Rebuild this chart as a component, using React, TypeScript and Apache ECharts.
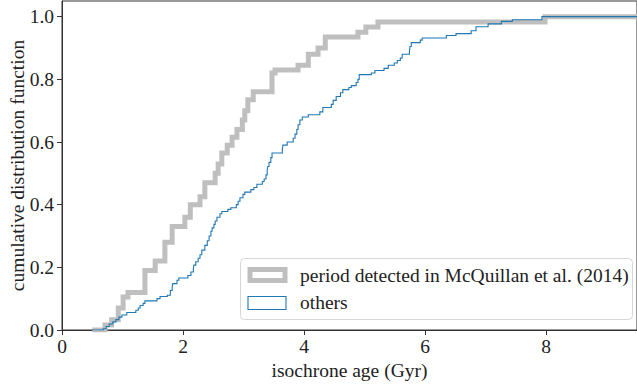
import React, { useEffect, useRef } from 'react';
import * as echarts from 'echarts';

const xTicks = [0, 2, 4, 6, 8];
const yTicks = [0, 0.2, 0.4, 0.6, 0.8, 1.0];

const seriesNames = ['period detected in McQuillan et al. (2014)', 'others'];

// step vertices: age where the CDF jumps, and the CDF value after the jump
const detectedAges = [0.50, 0.71, 0.82, 0.93, 1.01, 1.09, 1.37, 1.54, 1.70, 1.82, 2.03, 2.12, 2.28, 2.36, 2.53, 2.58, 2.64, 2.73, 2.81, 2.89, 2.98, 3.02, 3.07, 3.16, 3.47, 3.52, 3.90, 4.07, 4.23, 4.35, 4.89, 5.02, 5.22, 7.98, 9.5];
const detectedCdf = [0, 0.016, 0.033, 0.07, 0.105, 0.12, 0.19, 0.22, 0.28, 0.33, 0.36, 0.40, 0.425, 0.47, 0.50, 0.53, 0.565, 0.59, 0.615, 0.64, 0.67, 0.70, 0.735, 0.76, 0.82, 0.83, 0.845, 0.88, 0.90, 0.935, 0.95, 0.967, 0.983, 1.0, 1.0];

const othersAges = [0.50, 0.68, 0.73, 0.78, 0.84, 0.89, 0.94, 0.99, 1.07, 1.22,
  1.26, 1.29, 1.34, 1.37, 1.57, 1.62, 1.74, 1.79, 1.82, 1.83,
  1.90, 1.93, 2.08, 2.13, 2.17, 2.18, 2.21, 2.25, 2.28, 2.31,
  2.36, 2.40, 2.43, 2.46, 2.48, 2.51, 2.53, 2.56, 2.61, 2.64,
  2.74, 2.79, 2.88, 2.91, 2.94, 2.99, 3.02, 3.12, 3.17, 3.22,
  3.31, 3.34, 3.37, 3.39, 3.40, 3.42, 3.45, 3.47, 3.64, 3.65,
  3.72, 3.82, 3.85, 3.88, 3.90, 3.93, 3.97, 4.07, 4.26, 4.31,
  4.45, 4.48, 4.53, 4.60, 4.64, 4.74, 4.78, 4.86, 4.89, 4.91,
  5.11, 5.17, 5.32, 5.39, 5.49, 5.54, 5.59, 5.62, 5.74, 5.75,
  5.77, 5.92, 5.95, 6.35, 6.51, 6.76, 6.84, 7.04, 7.26, 7.44,
  7.93, 9.5];
const othersCdf = [0, 0.004, 0.011, 0.019, 0.026, 0.033, 0.041, 0.048, 0.056, 0.063,
  0.070, 0.078, 0.085, 0.093, 0.100, 0.107, 0.111, 0.126, 0.137, 0.148,
  0.159, 0.166, 0.174, 0.185, 0.196, 0.207, 0.218, 0.229, 0.240, 0.255,
  0.270, 0.285, 0.300, 0.315, 0.326, 0.337, 0.348, 0.360, 0.371, 0.378,
  0.385, 0.390, 0.400, 0.411, 0.422, 0.433, 0.440, 0.448, 0.455, 0.465,
  0.474, 0.482, 0.495, 0.510, 0.522, 0.535, 0.550, 0.565, 0.575, 0.590,
  0.600, 0.612, 0.625, 0.640, 0.655, 0.670, 0.680, 0.687, 0.696, 0.710,
  0.720, 0.733, 0.745, 0.757, 0.767, 0.774, 0.780, 0.790, 0.800, 0.815,
  0.820, 0.828, 0.835, 0.845, 0.852, 0.860, 0.868, 0.880, 0.890, 0.905,
  0.917, 0.925, 0.932, 0.940, 0.946, 0.955, 0.968, 0.977, 0.985, 0.990,
  1.0, 1.0];

const FONT = 'Liberation Serif';
const FS = 19.5;
const TEXT = '#222';
const GRAY = '#bfbfbf';
const BLUE = '#1f77b4';

function isTick(v: number, ticks: number[]) {
  return ticks.some((t) => Math.abs(t - v) < 1e-6);
}

export default function App() {
  const ref = useRef<HTMLDivElement>(null);
  useEffect(() => {
    if (!ref.current) return;
    const chart = echarts.init(ref.current, null, { renderer: 'svg' });
    const detected = detectedAges.map((a, i) => [a, detectedCdf[i]]);
    const others = othersAges.map((a, i) => [a, othersCdf[i]]);
    chart.setOption({
      animation: false,
      backgroundColor: '#fff',
      textStyle: { fontFamily: FONT },
      grid: {
        left: 62, right: 0, top: 1, bottom: 60,
        show: true, borderColor: '#333', borderWidth: 1,
        outerBoundsMode: 'none',
      },
      xAxis: {
        type: 'value', min: 0, max: 9.5, interval: 2,
        name: 'isochrone age (Gyr)', nameLocation: 'middle', nameGap: 30,
        nameMoveOverlap: false,
        nameTextStyle: { fontFamily: FONT, fontSize: FS, color: TEXT },
        axisLine: { show: true, lineStyle: { color: '#333', width: 1 } },
        axisTick: { show: true, inside: false, length: 5, lineStyle: { color: '#333' },
          customValues: xTicks },
        axisLabel: { margin: 6, fontFamily: FONT, fontSize: FS, color: TEXT,
          customValues: xTicks,
          formatter: (v: number) => (isTick(v, xTicks) ? String(v) : '') },
        splitLine: { show: false },
      },
      yAxis: {
        type: 'value', min: 0, max: 1.05, interval: 0.2,
        name: 'cumulative distribution function', nameLocation: 'middle', nameGap: 35,
        nameMoveOverlap: false,
        nameTextStyle: { fontFamily: FONT, fontSize: FS, color: TEXT },
        axisLine: { show: true, lineStyle: { color: '#333', width: 1 } },
        axisTick: { show: true, inside: false, length: 5, lineStyle: { color: '#333' },
          customValues: yTicks },
        axisLabel: { margin: 8, fontFamily: FONT, fontSize: FS, color: TEXT,
          customValues: yTicks,
          formatter: (v: number) => (isTick(v, yTicks) ? v.toFixed(1) : '') },
        splitLine: { show: false },
      },
      series: [
        {
          name: seriesNames[0], type: 'line', step: 'end', data: detected,
          symbol: 'none', clip: true, z: 2,
          lineStyle: { color: GRAY, width: 5, join: 'miter', cap: 'butt' },
        },
        {
          name: seriesNames[1], type: 'line', step: 'end', data: others,
          symbol: 'none', clip: true, z: 3,
          lineStyle: { color: BLUE, width: 1.1, join: 'miter', cap: 'butt' },
        },
      ],
      graphic: [
        {
          type: 'rect', z: 100,
          shape: { x: 240.5, y: 258.5, width: 392, height: 61, r: 4 },
          style: { fill: 'rgba(255,255,255,0.8)', stroke: '#d6d6d6', lineWidth: 1 },
        },
        {
          type: 'rect', z: 101,
          shape: { x: 250, y: 269.5, width: 35, height: 11 },
          style: { fill: 'none', stroke: GRAY, lineWidth: 5 },
        },
        {
          type: 'rect', z: 101,
          shape: { x: 248, y: 296.5, width: 38, height: 13 },
          style: { fill: 'none', stroke: BLUE, lineWidth: 1.1 },
        },
        {
          type: 'text', z: 101, x: 300, y: 275,
          style: { text: seriesNames[0], fontFamily: FONT, fontSize: FS, fill: TEXT,
            verticalAlign: 'middle' },
        },
        {
          type: 'text', z: 101, x: 300, y: 302,
          style: { text: seriesNames[1], fontFamily: FONT, fontSize: FS, fill: TEXT,
            verticalAlign: 'middle' },
        },
      ],
    });
    return () => chart.dispose();
  }, []);
  return (
    <div
      ref={ref}
      style={{ position: 'fixed', left: 0, top: 0, width: 637, height: 390 }}
    />
  );
}
